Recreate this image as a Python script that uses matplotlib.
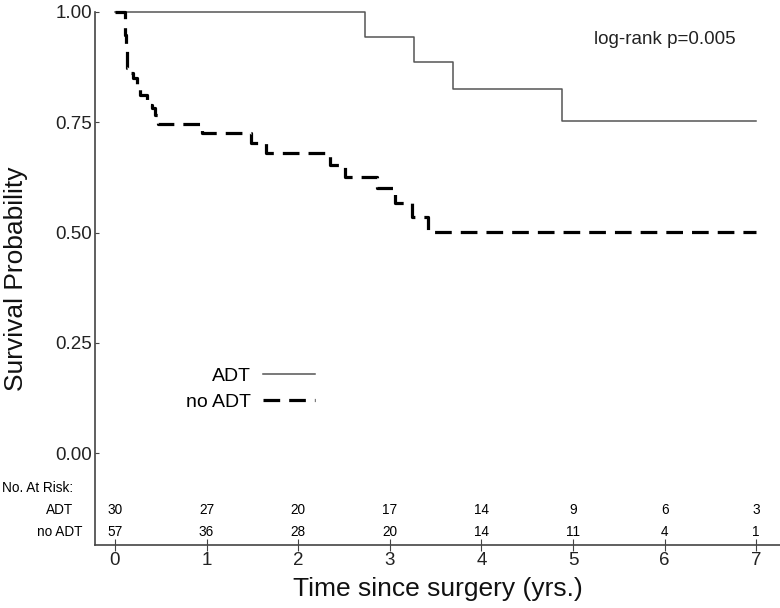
import matplotlib
matplotlib.use("Agg")
import matplotlib.pyplot as plt
import matplotlib.transforms as mtransforms

plt.rcParams['font.family'] = ['Liberation Sans', 'DejaVu Sans']
plt.rcParams['lines.scale_dashes'] = False

# Kaplan-Meier step data
adt_t = [0, 2.73, 3.26, 3.69, 4.88, 7.0]
adt_s = [1.0, 0.944, 0.887, 0.826, 0.752, 0.752]

noadt_t = [0, 0.11, 0.12, 0.13, 0.18, 0.20, 0.24, 0.27, 0.35, 0.40, 0.44, 0.47,
           0.95, 1.49, 1.65, 2.35, 2.51, 2.86, 3.06, 3.24, 3.42, 7.0]
noadt_s = [1.0, 0.947, 0.912, 0.873, 0.862, 0.85, 0.83, 0.812, 0.79, 0.782, 0.766, 0.745,
           0.726, 0.703, 0.68, 0.653, 0.626, 0.60, 0.567, 0.535, 0.501, 0.501]

# Numbers at risk
risk_years = [0, 1, 2, 3, 4, 5, 6, 7]
adt_risk = [30, 27, 20, 17, 14, 9, 6, 3]
noadt_risk = [57, 36, 28, 20, 14, 11, 4, 1]
y_ticks = [0.0, 0.25, 0.5, 0.75, 1.0]

fig = plt.figure(figsize=(7.8, 6.08), dpi=100)
ax = fig.add_axes([95 / 780, 63 / 608, 685 / 780, 533 / 608])

ax.step(adt_t, adt_s, where='post', color='#555555', lw=1.1, label='ADT', clip_on=False)
ax.step(noadt_t, noadt_s, where='post', color='black', lw=2.3, dashes=(12, 6.5),
        label='no ADT', clip_on=False)

ax.set_xlim(-0.218, 7.26)
ax.set_ylim(-0.2086, 1.0)
ax.set_xticks(risk_years)
ax.set_yticks(y_ticks)
ax.set_yticklabels([f"{v:.2f}" for v in y_ticks])

for side in ['top', 'right']:
    ax.spines[side].set_visible(False)
for side in ['left', 'bottom']:
    ax.spines[side].set_color('#444444')
    ax.spines[side].set_linewidth(1.2)

ax.tick_params(axis='y', direction='in', length=3, pad=2, labelsize=13.5,
               colors='#444444', labelcolor='#222222')
ax.tick_params(axis='x', direction='inout', length=8, pad=1, labelsize=13.5,
               colors='#444444', labelcolor='#222222')

ax.set_xlabel("Time since surgery (yrs.)", fontsize=19, labelpad=6, color='#111111')
ax.set_ylabel("Survival Probability", fontsize=19, labelpad=20, color='#111111')

ax.text(6.0, 0.937, "log-rank p=0.005", fontsize=13.5, ha='center', va='center',
        color='#222222')

# number at risk table
lab = mtransforms.blended_transform_factory(fig.transFigure, ax.transData)
ax.text(2 / 780, -0.079, "No. At Risk:", transform=lab, fontsize=9.8, ha='left', va='center')
ax.text(60 / 780, -0.129, "ADT", transform=lab, fontsize=9.8, ha='center', va='center')
ax.text(60 / 780, -0.179, "no ADT", transform=lab, fontsize=9.8, ha='center', va='center')
for x, a, n in zip(risk_years, adt_risk, noadt_risk):
    ax.text(x, -0.129, str(a), fontsize=9.8, ha='center', va='center')
    ax.text(x, -0.179, str(n), fontsize=9.8, ha='center', va='center')

ax.legend(loc='upper right', bbox_to_anchor=(315 / 780, 1 - 367 / 608),
          bbox_transform=fig.transFigure, frameon=False, markerfirst=False,
          fontsize=14, handlelength=2.7, handletextpad=0.6, borderpad=0,
          labelspacing=0.45, borderaxespad=0)

fig.savefig("out.png", dpi=100)
